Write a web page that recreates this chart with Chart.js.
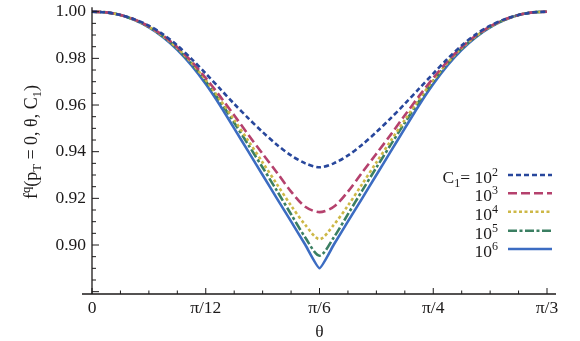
<!DOCTYPE html>
<html>
<head>
<meta charset="utf-8">
<script src="https://cdn.jsdelivr.net/npm/chart.js@4/dist/chart.umd.min.js"></script>
<style>
  html, body { margin: 0; padding: 0; background: #fff; }
  #wrap { width: 580px; height: 341px; }
</style>
</head>
<body>
<div id="wrap"><canvas id="chart"></canvas></div>
<script>
// theta in units of pi/48 (0 .. pi/3)
const thetaSteps = [0, 0.5, 1, 1.5, 2, 2.5, 3, 3.5, 4, 4.5, 5, 5.5, 6, 6.5, 7, 7.5, 8,
                    8.5, 9, 9.5, 10, 10.5, 11, 11.5, 12, 12.5, 13, 13.5, 14, 14.5, 15, 15.5, 16];

// f^q(pT=0, theta, C1) for each C1
const fC1e2 = [1.0000, 0.9997, 0.9986, 0.9967, 0.9940, 0.9903, 0.9855, 0.9798, 0.9735, 0.9670, 0.9605, 0.9543, 0.9484, 0.9430, 0.9384, 0.9350, 0.9333,
               0.9350, 0.9384, 0.9430, 0.9484, 0.9543, 0.9605, 0.9670, 0.9735, 0.9798, 0.9855, 0.9903, 0.9940, 0.9967, 0.9986, 0.9997, 1.0000];
const fC1e3 = [1.0000, 0.9997, 0.9986, 0.9966, 0.9937, 0.9898, 0.9848, 0.9787, 0.9716, 0.9638, 0.9556, 0.9472, 0.9391, 0.9311, 0.9229, 0.9164, 0.9141,
               0.9164, 0.9229, 0.9311, 0.9391, 0.9472, 0.9556, 0.9638, 0.9716, 0.9787, 0.9848, 0.9898, 0.9937, 0.9966, 0.9986, 0.9997, 1.0000];
const fC1e4 = [1.0000, 0.9997, 0.9986, 0.9965, 0.9935, 0.9895, 0.9844, 0.9781, 0.9707, 0.9624, 0.9536, 0.9446, 0.9354, 0.9261, 0.9169, 0.9086, 0.9025,
               0.9086, 0.9169, 0.9261, 0.9354, 0.9446, 0.9536, 0.9624, 0.9707, 0.9781, 0.9844, 0.9895, 0.9935, 0.9965, 0.9986, 0.9997, 1.0000];
const fC1e5 = [1.0000, 0.9997, 0.9986, 0.9965, 0.9935, 0.9894, 0.9842, 0.9778, 0.9702, 0.9616, 0.9524, 0.9429, 0.9332, 0.9233, 0.9132, 0.9032, 0.8954,
               0.9032, 0.9132, 0.9233, 0.9332, 0.9429, 0.9524, 0.9616, 0.9702, 0.9778, 0.9842, 0.9894, 0.9935, 0.9965, 0.9986, 0.9997, 1.0000];
const fC1e6 = [1.0000, 0.9997, 0.9986, 0.9964, 0.9933, 0.9891, 0.9837, 0.9770, 0.9690, 0.9599, 0.9500, 0.9400, 0.9300, 0.9200, 0.9101, 0.9001, 0.8901,
               0.9001, 0.9101, 0.9200, 0.9300, 0.9400, 0.9500, 0.9599, 0.9690, 0.9770, 0.9837, 0.9891, 0.9933, 0.9964, 0.9986, 0.9997, 1.0000];

const legendExponents = ['2', '3', '4', '5', '6'];
const xTickLabels = ['0', 'π/12', 'π/6', 'π/4', 'π/3'];
const yTickLabels = ['0.90', '0.92', '0.94', '0.96', '0.98', '1.00'];

const FONT = '"Liberation Serif", "DejaVu Serif", serif';
const INK = '#1c1a1a';

function toPoints(values) {
    return values.map((v, i) => ({ x: thetaSteps[i] * Math.PI / 48, y: v }));
}

function series(values, color, dash, tension) {
    return {
        data: toPoints(values),
        borderColor: color,
        borderWidth: 2.6,
        borderDash: dash,
        borderCapStyle: 'butt',
        pointRadius: 0,
        tension: tension,
        fill: false
    };
}

// draws a run of text pieces: [text, baselineShift, fontSize]
function drawRich(ctx, parts, x, y, align) {
    let total = 0;
    parts.forEach(p => { ctx.font = p[2] + 'px ' + FONT; total += ctx.measureText(p[0]).width; });
    let cx = align === 'right' ? x - total : (align === 'center' ? x - total / 2 : x);
    parts.forEach(p => {
        ctx.font = p[2] + 'px ' + FONT;
        ctx.fillText(p[0], cx, y + p[1]);
        cx += ctx.measureText(p[0]).width;
    });
}

const mmaAxes = {
    id: 'mmaAxes',
    afterDatasetsDraw(chart) {
        const { ctx, chartArea: a, scales: { x, y } } = chart;
        const x0 = x.getPixelForValue(0);
        const yb = a.bottom;
        ctx.save();
        ctx.strokeStyle = INK;
        ctx.lineWidth = 1.3;
        ctx.beginPath();
        ctx.moveTo(x0 - 10, yb); ctx.lineTo(a.right + 9, yb);
        ctx.moveTo(x0, yb); ctx.lineTo(x0, a.top - 1);
        ctx.stroke();

        ctx.lineWidth = 1;
        ctx.beginPath();
        for (let i = 0; i <= 16; i++) {
            const px = x.getPixelForValue(i * Math.PI / 48);
            const len = i % 4 === 0 ? 6 : 3.5;
            ctx.moveTo(px, yb); ctx.lineTo(px, yb - len);
        }
        for (let i = 0; i <= 24; i++) {
            const v = 0.88 + i * 0.005;
            if (v < y.min) continue;
            const py = y.getPixelForValue(v);
            const len = i % 4 === 0 ? 7 : 4;
            ctx.moveTo(x0, py); ctx.lineTo(x0 + len, py);
        }
        ctx.stroke();

        // y axis title, rotated
        ctx.fillStyle = INK;
        ctx.textBaseline = 'alphabetic';
        ctx.translate(37, 142);
        ctx.rotate(-Math.PI / 2);
        drawRich(ctx, [['f', 0, 18], ['q', -7, 12.5], ['(p', 0, 18], ['T', 4, 12.5],
                       [' = 0, θ, C', 0, 18], ['1', 4, 12.5], [')', 0, 18]], 0, 0, 'center');
        ctx.restore();

        // legend
        ctx.save();
        ctx.fillStyle = INK;
        ctx.textBaseline = 'alphabetic';
        const rowY = [175, 193.3, 211.7, 230.7, 249];
        chart.data.datasets.forEach((ds, i) => {
            const ly = rowY[i];
            const parts = i === 0
                ? [['C', 0, 17.5], ['1', 4, 12], ['= 10', 0, 17.5], [legendExponents[i], -7, 12]]
                : [['10', 0, 17.5], [legendExponents[i], -7, 12]];
            drawRich(ctx, parts, 498, ly + 8, 'right');
            ctx.strokeStyle = ds.borderColor;
            ctx.lineWidth = ds.borderWidth;
            ctx.setLineDash(ds.borderDash || []);
            ctx.beginPath();
            ctx.moveTo(508, ly); ctx.lineTo(552, ly);
            ctx.stroke();
        });
        ctx.restore();
    }
};

const chartConfig = {
    type: 'line',
    data: {
        datasets: [
            series(fC1e2, '#28479c', [5, 3], 0.3),
            series(fC1e3, '#b5416d', [9, 4], 0.3),
            series(fC1e4, '#cdb847', [3, 2.5], 0.3),
            series(fC1e5, '#3b7f62', [9, 2.5, 3, 2.5], 0.3),
            series(fC1e6, '#3c6cc2', [], 0.15)
        ]
    },
    options: {
        responsive: true,
        maintainAspectRatio: false,
        animation: false,
        clip: false,
        layout: { padding: { left: 0, right: 33, top: 8.2, bottom: 0 } },
        plugins: {
            legend: { display: false },
            tooltip: { enabled: false }
        },
        scales: {
            x: {
                type: 'linear',
                min: 0,
                max: Math.PI / 3,
                afterBuildTicks: s => { s.ticks = xTickLabels.map((t, i) => ({ value: i * Math.PI / 12 })); },
                afterFit: s => { s.height = 47; s.paddingLeft = 0; s.paddingRight = 0; },
                grid: { display: false, drawTicks: false },
                border: { display: false },
                ticks: {
                    autoSkip: false,
                    maxRotation: 0,
                    padding: 4,
                    color: INK,
                    font: { family: FONT, size: 17.5 },
                    callback: (v, i) => xTickLabels[i]
                },
                title: {
                    display: true,
                    text: 'θ',
                    color: INK,
                    font: { family: FONT, size: 17.5 },
                    padding: { top: 0, bottom: -2 }
                }
            },
            y: {
                min: 0.879,
                max: 1.0015,
                afterBuildTicks: s => { s.ticks = yTickLabels.map(t => ({ value: parseFloat(t) })); },
                afterFit: s => { s.width = 92; s.paddingTop = 0; s.paddingBottom = 0; },
                grid: { display: false, drawTicks: false },
                border: { display: false },
                ticks: {
                    padding: 6,
                    color: INK,
                    font: { family: FONT, size: 17.5 },
                    callback: (v, i) => yTickLabels[i]
                }
            }
        }
    },
    plugins: [mmaAxes]
};

new Chart(document.getElementById('chart').getContext('2d'), chartConfig);
</script>
</body>
</html>
